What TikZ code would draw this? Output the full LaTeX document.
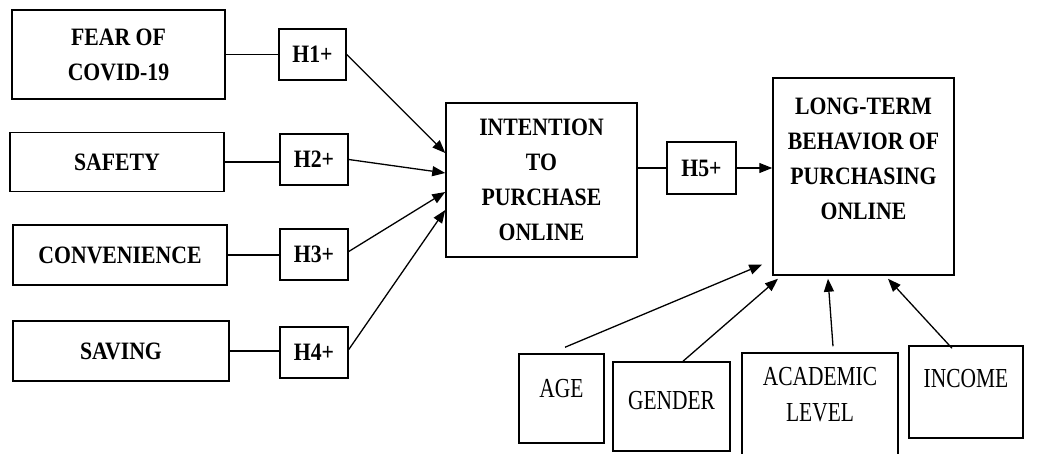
\documentclass[tikz,border=0pt]{standalone}
\usepackage{fontspec}
\usetikzlibrary{arrows.meta}
\newfontfamily\hdfont[FakeStretch=0.87]{Liberation Serif}
\newfontfamily\ctrlfont[FakeStretch=0.78]{Liberation Serif}
\begin{document}
\begin{tikzpicture}[x=1pt, y=-1pt]
\tikzset{varbox/.style={draw, line width=1.5pt, inner sep=0pt, align=center, font=\hdfont\bfseries\fontsize{25}{35}\selectfont},
hypbox/.style={varbox, minimum width=68pt, minimum height=51pt},
ctrlbox/.style={draw, line width=1.5pt, inner sep=0pt},
ctrltxt/.style={anchor=north, inner sep=0pt, align=center, font=\ctrlfont\fontsize{27.5}{36}\selectfont},
link/.style={line width=1.3pt},
arr/.style={line width=1.3pt, -{Triangle[length=13pt, width=10pt]}}}
\clip (0,0) rectangle (1042,453);
\node[varbox, minimum width=213pt, minimum height=89pt] (fear) at (118.5,54.5) {FEAR OF\\COVID-19};
\node[varbox, minimum width=214pt, minimum height=59pt] (safety) at (117,162) {SAFETY};
\node[varbox, minimum width=214pt, minimum height=60pt] (conv) at (120,255) {CONVENIENCE};
\node[varbox, minimum width=216pt, minimum height=60pt] (saving) at (121,351) {SAVING};
\node[hypbox, minimum width=67pt] (h1) at (312.5,54.5) {H1+};
\node[hypbox] (h2) at (314,159.5) {H2+};
\node[hypbox] (h3) at (314,254.5) {H3+};
\node[hypbox] (h4) at (314,352.5) {H4+};
\node[varbox, minimum width=191pt, minimum height=154pt] (int) at (541.5,180) {INTENTION\\TO\\PURCHASE\\ONLINE};
\node[hypbox, minimum width=69pt, minimum height=52pt] (h5) at (701.5,168) {H5+};
\node[ctrlbox, minimum width=181pt, minimum height=197pt,
  label={[varbox, draw=none, anchor=north, yshift=-20pt]north:LONG-TERM\\BEHAVIOR OF\\PURCHASING\\ONLINE}] (lt) at (863.5,176.5) {};
\node[ctrlbox, minimum width=85pt, minimum height=89pt,
  label={[ctrltxt, yshift=-26pt]north:AGE}] (age) at (561.5,398.5) {};
\node[ctrlbox, minimum width=117pt, minimum height=89pt,
  label={[ctrltxt, yshift=-30pt]north:GENDER}] (gender) at (671.5,406.5) {};
\node[ctrlbox, minimum width=156pt, minimum height=117pt,
  label={[ctrltxt, yshift=-15pt]north:ACADEMIC\\LEVEL}] (acad) at (820,411.5) {};
\node[ctrlbox, minimum width=114pt, minimum height=92pt,
  label={[ctrltxt, yshift=-24pt]north:INCOME}] (income) at (966,392) {};
\draw[link] (fear.east) -- (fear.east -| h1.west);
\draw[link] (safety.east) -- (safety.east -| h2.west);
\draw[link] (conv.east) -- (conv.east -| h3.west);
\draw[link] (saving.east) -- (saving.east -| h4.west);
\draw[arr] (h1.east) -- ([yshift=27pt]int.west);
\draw[arr] (h2.east) -- ([yshift=7pt]int.west);
\draw[arr] ([yshift=3pt]h3.east) -- ([yshift=-12pt]int.west);
\draw[arr] ([yshift=3pt]h4.east) -- ([yshift=-30pt]int.west);
\draw[link] (h5.west -| int.east) -- (h5.west);
\draw[arr] (h5.east) -- (h5.east -| lt.west);
\draw[arr] ([xshift=3.5pt, yshift=6pt]age.north) -- ([xshift=-10pt, yshift=-88pt]lt.west);
\draw[arr] ([xshift=11.5pt]gender.north) -- ([xshift=-85.5pt, yshift=-3pt]lt.south);
\draw[arr] ([xshift=13pt, yshift=6pt]acad.north) -- ([xshift=-35.5pt, yshift=-3pt]lt.south);
\draw[arr] ([xshift=-14pt, yshift=-3pt]income.north) -- ([xshift=24.5pt, yshift=-3pt]lt.south);
\end{tikzpicture}
\end{document}
